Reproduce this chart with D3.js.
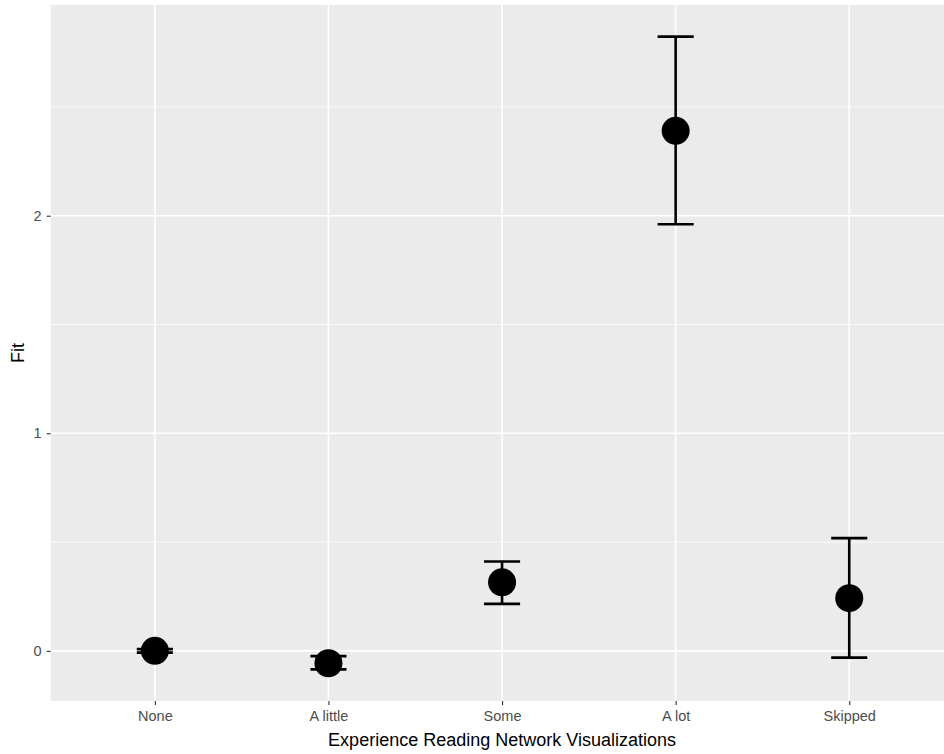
<!DOCTYPE html>
<html>
<head>
<meta charset="utf-8">
<script src="https://cdn.jsdelivr.net/npm/d3@7/dist/d3.min.js"></script>
<style>
  html, body { margin: 0; padding: 0; background: #ffffff; }
  svg { display: block; }
  text { font-family: "Liberation Sans", Arial, Helvetica, sans-serif; }
</style>
</head>
<body>
<svg id="chart" width="944" height="754"></svg>
<script>
// ---- data ----
const categories = ["None", "A little", "Some", "A lot", "Skipped"];
const fitValues  = [0.000, -0.057, 0.315, 2.390, 0.242];
const lowerCI    = [-0.008, -0.085, 0.216, 1.961, -0.031];
const upperCI    = [0.008, -0.024, 0.411, 2.823, 0.518];
const yTickValues = [0, 1, 2];
const yMinorValues = [0.5, 1.5, 2.5];
const xTitle = "Experience Reading Network Visualizations";
const yTitle = "Fit";

const rows = categories.map((c, i) => ({ cat: c, fit: fitValues[i], lo: lowerCI[i], hi: upperCI[i] }));

// ---- layout ----
const W = 944, H = 754;
const panel = { left: 50.7, right: 953.4, top: 5, bottom: 701 };

const svg = d3.select("#chart");

const x = d3.scalePoint()
  .domain(categories)
  .range([panel.left, panel.right])
  .padding(0.6);

const dataMin = d3.min(lowerCI), dataMax = d3.max(upperCI);
const span = dataMax - dataMin;
const y = d3.scaleLinear()
  .domain([dataMin - 0.05 * span, dataMax + 0.05 * span])
  .range([panel.bottom, panel.top]);

// panel background
svg.append("rect")
  .attr("x", panel.left).attr("y", panel.top)
  .attr("width", panel.right - panel.left)
  .attr("height", panel.bottom - panel.top)
  .attr("fill", "#EBEBEB");

// minor grid
svg.append("g").selectAll("line").data(yMinorValues).join("line")
  .attr("x1", panel.left).attr("x2", panel.right)
  .attr("y1", d => y(d)).attr("y2", d => y(d))
  .attr("stroke", "#ffffff").attr("stroke-width", 0.8);

// major grid
svg.append("g").selectAll("line").data(yTickValues).join("line")
  .attr("x1", panel.left).attr("x2", panel.right)
  .attr("y1", d => y(d)).attr("y2", d => y(d))
  .attr("stroke", "#ffffff").attr("stroke-width", 1.6);

svg.append("g").selectAll("line").data(categories).join("line")
  .attr("x1", d => x(d)).attr("x2", d => x(d))
  .attr("y1", panel.top).attr("y2", panel.bottom)
  .attr("stroke", "#ffffff").attr("stroke-width", 1.6);

// axes
const xAxis = svg.append("g")
  .attr("transform", `translate(0,${panel.bottom})`)
  .call(d3.axisBottom(x).tickSize(4).tickPadding(6));
xAxis.select(".domain").remove();
xAxis.selectAll(".tick line").attr("stroke", "#333333").attr("stroke-width", 1.1);
xAxis.selectAll(".tick text")
  .attr("fill", "#4D4D4D")
  .style("font-size", "14.5px")
  .style("font-family", "'Liberation Sans', Arial, sans-serif");

const yAxis = svg.append("g")
  .attr("transform", `translate(${panel.left},0)`)
  .call(d3.axisLeft(y).tickValues(yTickValues).tickFormat(d3.format("d")).tickSize(4).tickPadding(5));
yAxis.select(".domain").remove();
yAxis.selectAll(".tick line").attr("stroke", "#333333").attr("stroke-width", 1.1);
yAxis.selectAll(".tick text")
  .attr("fill", "#4D4D4D")
  .style("font-size", "14.5px")
  .style("font-family", "'Liberation Sans', Arial, sans-serif");

// axis titles
svg.append("text")
  .attr("x", (panel.left + panel.right) / 2)
  .attr("y", 746)
  .attr("text-anchor", "middle")
  .attr("fill", "#000000")
  .style("font-size", "18px")
  .text(xTitle);

svg.append("text")
  .attr("transform", `translate(24,${(panel.top + panel.bottom) / 2}) rotate(-90)`)
  .attr("text-anchor", "middle")
  .attr("fill", "#000000")
  .style("font-size", "18px")
  .text(yTitle);

// error bars
const capHalf = x.step() * 0.104;
const eb = svg.append("g").attr("stroke", "#000000").attr("stroke-width", 2.6).attr("fill", "none");
eb.selectAll("line.v").data(rows).join("line").attr("class", "v")
  .attr("x1", d => x(d.cat)).attr("x2", d => x(d.cat))
  .attr("y1", d => y(d.lo)).attr("y2", d => y(d.hi));
eb.selectAll("line.top").data(rows).join("line").attr("class", "top")
  .attr("x1", d => x(d.cat) - capHalf).attr("x2", d => x(d.cat) + capHalf)
  .attr("y1", d => y(d.hi)).attr("y2", d => y(d.hi));
eb.selectAll("line.bot").data(rows).join("line").attr("class", "bot")
  .attr("x1", d => x(d.cat) - capHalf).attr("x2", d => x(d.cat) + capHalf)
  .attr("y1", d => y(d.lo)).attr("y2", d => y(d.lo));

// points
svg.append("g").selectAll("circle").data(rows).join("circle")
  .attr("cx", d => x(d.cat))
  .attr("cy", d => y(d.fit))
  .attr("r", 14)
  .attr("fill", "#000000");
</script>
</body>
</html>
